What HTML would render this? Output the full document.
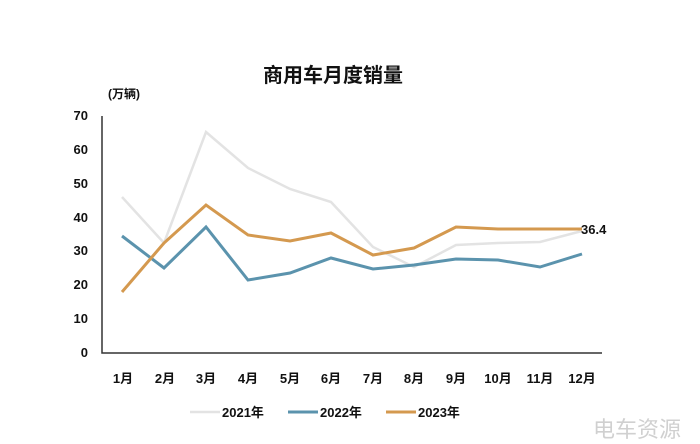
<!DOCTYPE html>
<html><head><meta charset="utf-8"><style>
body{margin:0;background:#fff;}
svg{display:block;font-family:"Liberation Sans","Noto Sans CJK SC",sans-serif;}
</style></head><body>
<svg width="700" height="444" viewBox="0 0 700 444">
<text x="333" y="82" text-anchor="middle" font-size="20" font-weight="bold" fill="#111">商用车月度销量</text>
<text x="108" y="98" font-size="12" font-weight="bold" fill="#111">(万辆)</text>
<g font-size="13" font-weight="bold" fill="#111" text-anchor="end">
<text x="88" y="120">70</text><text x="88" y="154">60</text><text x="88" y="188">50</text><text x="88" y="222">40</text><text x="88" y="255">30</text><text x="88" y="289">20</text><text x="88" y="323">10</text><text x="88" y="357">0</text>
</g>
<path d="M102 116 V353 H602" fill="none" stroke="#333" stroke-width="1.5"/>
<g font-size="13" font-weight="bold" fill="#111" text-anchor="middle">
<text x="123" y="383">1月</text><text x="165" y="383">2月</text><text x="206" y="383">3月</text><text x="248" y="383">4月</text><text x="290" y="383">5月</text><text x="331" y="383">6月</text><text x="373" y="383">7月</text><text x="414" y="383">8月</text><text x="456" y="383">9月</text><text x="498" y="383">10月</text><text x="540" y="383">11月</text><text x="582" y="383">12月</text>
</g>
<polyline fill="none" stroke="#e3e3e3" stroke-width="2.5" points="122,197 164,243 206,132 248,168 290,189 331,202 373,247 414,267 456,245 498,243 540,242 582,231"/>
<polyline fill="none" stroke="#5b93ad" stroke-width="3" points="122,236 164,268 206,227 248,280 290,273 331,258 373,269 414,265 456,259 498,260 540,267 582,254"/>
<polyline fill="none" stroke="#d4994f" stroke-width="3" points="122,292 164,243 206,205 248,235 290,241 331,233 373,255 414,248 456,227 498,229 540,229 582,229"/>
<text x="581" y="234" font-size="13" font-weight="bold" fill="#111">36.4</text>
<g font-size="13" font-weight="bold" fill="#111">
<line x1="190" y1="412" x2="220" y2="412" stroke="#e3e3e3" stroke-width="2.5"/><text x="222" y="417">2021年</text>
<line x1="288" y1="412" x2="318" y2="412" stroke="#5b93ad" stroke-width="3"/><text x="320" y="417">2022年</text>
<line x1="386" y1="412" x2="416" y2="412" stroke="#d4994f" stroke-width="3"/><text x="418" y="417">2023年</text>
</g>
<text x="593" y="437" font-size="22" fill="#d0d0d0">电车资源</text>
</svg>
</body></html>
